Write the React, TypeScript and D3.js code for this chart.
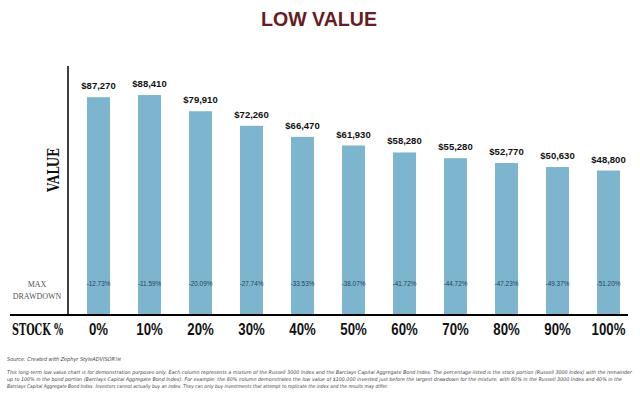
import React, { useEffect, useRef } from "react";
import * as d3 from "d3";

// stock portion of each mixture
const STOCK_PCT = ["0%", "10%", "20%", "30%", "40%", "50%", "60%", "70%", "80%", "90%", "100%"];
// low value of $100,000 before the largest drawdown
const LOW_VALUES = [87270, 88410, 79910, 72260, 66470, 61930, 58280, 55280, 52770, 50630, 48800];
// max drawdown per mixture
const MAX_DRAWDOWN = ["-12.73%", "-11.59%", "-20.09%", "-27.74%", "-33.53%", "-38.07%", "-41.72%", "-44.72%", "-47.23%", "-49.37%", "-51.20%"];

const FOOTNOTE = [
  "This long-term low value chart is for demonstration purposes only. Each column represents a mixture of the Russell 3000 Index and the Barclays Capital Aggregate Bond Index. The percentage listed is the stock portion (Russell 3000 Index) with the remainder",
  "up to 100% in the bond portion (Barclays Capital Aggregate Bond Index). For example, the 60% column demonstrates the low value of $100,000 invested just before the largest drawdown for the mixture, with 60% in the Russell 3000 Index and 40% in the",
  "Barclays Capital Aggregate Bond Index. Investors cannot actually buy an index. They can only buy investments that attempt to replicate the index and the results may differ."
];
const FOOTNOTE_WIDTHS = [625, 615, 381];

const W = 640,
  H = 395;
const BASE_Y = 315,
  AXIS_X = 68;

const SLAB = "'DejaVu Serif Condensed', 'DejaVu Serif', serif";
const SANS = "'Liberation Sans', Arial, sans-serif";

export default function App() {
  const ref = useRef<SVGSVGElement>(null);

  useEffect(() => {
    const svg = d3.select(ref.current);
    svg.selectAll("*").remove();

    // x: stock percentage
    const x = d3
      .scaleBand()
      .domain(STOCK_PCT)
      .range([73, 634])
      .paddingInner(0.55)
      .paddingOuter(0.275);
    const cx = (d: string) => (x(d) as number) + x.bandwidth() / 2;

    // y: low value (chart is not zero based)
    const y = d3.scaleLinear().domain([-27000, 90000]).range([BASE_Y, 92]);

    // title
    svg
      .append("text")
      .attr("x", 319)
      .attr("y", 26)
      .attr("text-anchor", "middle")
      .attr("font-family", SANS)
      .attr("font-weight", "bold")
      .attr("font-size", 20)
      .attr("textLength", 116)
      .attr("lengthAdjust", "spacingAndGlyphs")
      .attr("fill", "#661c22")
      .text("LOW VALUE");

    // bars
    const bars = svg.append("g");
    bars
      .selectAll("rect")
      .data(LOW_VALUES)
      .enter()
      .append("rect")
      .attr("x", (_, i) => x(STOCK_PCT[i]) as number)
      .attr("y", d => y(d))
      .attr("width", x.bandwidth())
      .attr("height", d => BASE_Y - y(d))
      .attr("fill", "#7db5cf");

    // value labels
    bars
      .selectAll("text.val")
      .data(LOW_VALUES)
      .enter()
      .append("text")
      .attr("class", "val")
      .attr("x", (_, i) => cx(STOCK_PCT[i]))
      .attr("y", d => y(d) - 8)
      .attr("text-anchor", "middle")
      .attr("font-family", SANS)
      .attr("font-weight", "bold")
      .attr("font-size", 9.5)
      .attr("fill", "#111")
      .text(d => "$" + d3.format(",")(d));

    // drawdown labels inside bars (narrowed)
    bars
      .selectAll("text.dd")
      .data(MAX_DRAWDOWN)
      .enter()
      .append("text")
      .attr("class", "dd")
      .attr("transform", (_, i) => `translate(${cx(STOCK_PCT[i])}, 286) scale(0.85, 1)`)
      .attr("text-anchor", "middle")
      .attr("font-family", SANS)
      .attr("font-size", 7.5)
      .attr("fill", "#27445a")
      .text(d => d);

    // axes lines
    svg
      .append("line")
      .attr("x1", AXIS_X)
      .attr("x2", AXIS_X)
      .attr("y1", 66)
      .attr("y2", BASE_Y)
      .attr("stroke", "#000")
      .attr("stroke-width", 1.5);
    svg
      .append("line")
      .attr("x1", 10)
      .attr("x2", 628)
      .attr("y1", BASE_Y)
      .attr("y2", BASE_Y)
      .attr("stroke", "#000")
      .attr("stroke-width", 2);

    // x tick labels (narrowed bold sans)
    svg
      .append("g")
      .selectAll("text")
      .data(STOCK_PCT)
      .enter()
      .append("text")
      .attr("transform", d => `translate(${cx(d)}, 335) scale(0.8, 1)`)
      .attr("text-anchor", "middle")
      .attr("font-family", SANS)
      .attr("font-weight", "bold")
      .attr("font-size", 16.5)
      .attr("fill", "#111")
      .text(d => d);

    // row / axis labels
    svg
      .append("text")
      .attr("transform", "translate(12, 335) scale(0.7, 1)")
      .attr("font-family", SLAB)
      .attr("font-weight", "bold")
      .attr("font-size", 17)
      .attr("textLength", 73)
      .attr("lengthAdjust", "spacingAndGlyphs")
      .attr("fill", "#111")
      .text("STOCK %");

    svg
      .append("text")
      .attr("transform", "translate(59, 170) rotate(-90)")
      .attr("text-anchor", "middle")
      .attr("font-family", SLAB)
      .attr("font-weight", "bold")
      .attr("font-size", 17)
      .attr("textLength", 44)
      .attr("lengthAdjust", "spacingAndGlyphs")
      .attr("fill", "#111")
      .text("VALUE");

    const dd = svg
      .append("text")
      .attr("text-anchor", "middle")
      .attr("font-family", "'Liberation Serif', serif")
      .attr("font-size", 8)
      .attr("fill", "#555");
    dd.append("tspan").attr("x", 37).attr("y", 287).text("MAX");
    dd.append("tspan").attr("x", 37).attr("y", 299).text("DRAWDOWN");

    // footnotes
    const src = svg
      .append("text")
      .attr("x", 7)
      .attr("y", 361)
      .attr("font-family", "'DejaVu Sans Condensed', 'DejaVu Sans', sans-serif")
      .attr("font-style", "italic")
      .attr("font-size", 5.5)
      .attr("fill", "#444");
    src.append("tspan").text("Source: Created with Zephyr StyleADVISOR");
    src.append("tspan").attr("font-size", 4.5).text("TM");

    svg
      .append("g")
      .selectAll("text")
      .data(FOOTNOTE)
      .enter()
      .append("text")
      .attr("x", 7)
      .attr("y", (_, i) => 374 + i * 7.2)
      .attr("font-family", "'DejaVu Sans Condensed', 'DejaVu Sans', sans-serif")
      .attr("font-style", "italic")
      .attr("font-size", 5)
      .attr("textLength", (_, i) => FOOTNOTE_WIDTHS[i])
      .attr("lengthAdjust", "spacingAndGlyphs")
      .attr("fill", "#444")
      .text(d => d);
  }, []);

  return (
    <svg
      ref={ref}
      width={W}
      height={H}
      style={{ position: "absolute", left: 0, top: 0, background: "#fff" }}
    />
  );
}
